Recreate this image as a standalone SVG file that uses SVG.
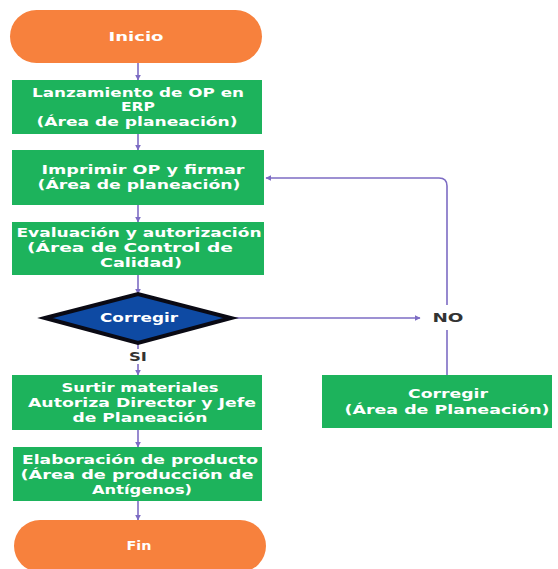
<svg xmlns="http://www.w3.org/2000/svg" width="558" height="569" viewBox="0 0 558 569">
<style>
.box{fill:#1db35c}
.pill{fill:#f7813d}
.t{font-family:"DejaVu Sans","Liberation Sans",sans-serif;font-weight:bold;font-size:12px;fill:#ffffff;text-anchor:middle;dominant-baseline:central}
.lbl{font-family:"DejaVu Sans","Liberation Sans",sans-serif;font-weight:bold;font-size:12px;fill:#333333;text-anchor:middle;dominant-baseline:central}
.c{fill:none;stroke:#7d6cc4;stroke-width:1.6}
</style>
<defs>
<marker id="ah" viewBox="0 0 10 10" refX="9" refY="5" markerWidth="6" markerHeight="6" orient="auto" markerUnits="userSpaceOnUse">
<path d="M0,0 L10,5 L0,10 z" fill="#7d6cc4"/>
</marker>
</defs>
<rect width="558" height="569" fill="#ffffff"/>
<g id="connectors">
<line class="c" x1="138" y1="63" x2="138" y2="80" marker-end="url(#ah)"/>
<line class="c" x1="138" y1="134" x2="138" y2="150" marker-end="url(#ah)"/>
<line class="c" x1="138" y1="205" x2="138" y2="222" marker-end="url(#ah)"/>
<line class="c" x1="138" y1="275" x2="138" y2="294" marker-end="url(#ah)"/>
<line class="c" x1="138" y1="343" x2="138" y2="349"/>
<line class="c" x1="138" y1="364" x2="138" y2="375" marker-end="url(#ah)"/>
<line class="c" x1="138" y1="430" x2="138" y2="447" marker-end="url(#ah)"/>
<line class="c" x1="138" y1="501" x2="138" y2="520" marker-end="url(#ah)"/>
<line class="c" x1="231" y1="318" x2="420" y2="318" marker-end="url(#ah)"/>
<path class="c" d="M447,305 V186 Q447,178 439,178 H266" marker-end="url(#ah)"/>
<line class="c" x1="447" y1="375" x2="447" y2="330"/>
</g>
<g id="inicio">
<rect class="pill" x="10" y="10" width="252" height="53" rx="26.5"/>
<text class="t" x="136" y="37" textLength="55" lengthAdjust="spacingAndGlyphs">Inicio</text>
</g>
<g id="lanzamiento">
<rect class="box" x="12" y="80" width="250" height="54"/>
<text class="t" x="138" y="93" textLength="212" lengthAdjust="spacingAndGlyphs">Lanzamiento de OP en</text>
<text class="t" x="138" y="107" textLength="34" lengthAdjust="spacingAndGlyphs">ERP</text>
<text class="t" x="137" y="122" textLength="201" lengthAdjust="spacingAndGlyphs">(Área de planeación)</text>
</g>
<g id="imprimir">
<rect class="box" x="12" y="150" width="252" height="55"/>
<text class="t" x="143" y="170" textLength="203" lengthAdjust="spacingAndGlyphs">Imprimir OP y firmar</text>
<text class="t" x="139" y="185" textLength="203" lengthAdjust="spacingAndGlyphs">(Área de planeación)</text>
</g>
<g id="evaluacion">
<rect class="box" x="12" y="222" width="252" height="53"/>
<text class="t" x="139" y="233" textLength="245" lengthAdjust="spacingAndGlyphs">Evaluación y autorización</text>
<text class="t" x="130" y="248" textLength="206" lengthAdjust="spacingAndGlyphs">(Área de Control de</text>
<text class="t" x="141" y="263" textLength="82" lengthAdjust="spacingAndGlyphs">Calidad)</text>
</g>
<g id="decision">
<polygon points="45,318 138,294 231,318 138,343" fill="#0e4aa3" stroke="#0a0a14" stroke-width="4" stroke-linejoin="miter"/>
<text class="t" x="139" y="318" textLength="78" lengthAdjust="spacingAndGlyphs">Corregir</text>
</g>
<g id="label-si">
<text class="lbl" x="138" y="357" textLength="18" lengthAdjust="spacingAndGlyphs">SI</text>
</g>
<g id="label-no">
<text class="lbl" x="448" y="318" textLength="31" lengthAdjust="spacingAndGlyphs">NO</text>
</g>
<g id="surtir">
<rect class="box" x="12" y="375" width="250" height="55"/>
<text class="t" x="140" y="388" textLength="157" lengthAdjust="spacingAndGlyphs">Surtir materiales</text>
<text class="t" x="142" y="403" textLength="228" lengthAdjust="spacingAndGlyphs">Autoriza Director y Jefe</text>
<text class="t" x="140" y="418" textLength="135" lengthAdjust="spacingAndGlyphs">de Planeación</text>
</g>
<g id="elaboracion">
<rect class="box" x="13" y="447" width="249" height="54"/>
<text class="t" x="140" y="460" textLength="236" lengthAdjust="spacingAndGlyphs">Elaboración de producto</text>
<text class="t" x="137" y="475" textLength="233" lengthAdjust="spacingAndGlyphs">(Área de producción de</text>
<text class="t" x="142" y="490" textLength="100" lengthAdjust="spacingAndGlyphs">Antígenos)</text>
</g>
<g id="fin">
<rect class="pill" x="14" y="520" width="252" height="52" rx="26"/>
<text class="t" x="139" y="546" textLength="25" lengthAdjust="spacingAndGlyphs">Fin</text>
</g>
<g id="corregir-planeacion">
<rect class="box" x="322" y="375" width="230" height="53"/>
<text class="t" x="448" y="394" textLength="80" lengthAdjust="spacingAndGlyphs">Corregir</text>
<text class="t" x="447" y="410" textLength="205" lengthAdjust="spacingAndGlyphs">(Área de Planeación)</text>
</g>
</svg>
